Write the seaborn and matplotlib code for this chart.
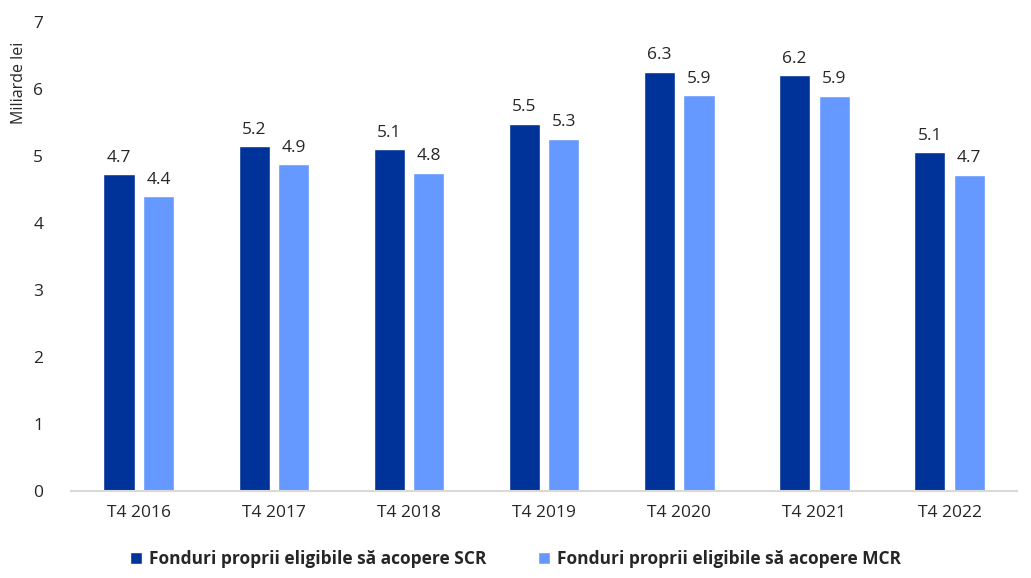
import seaborn as sns
import numpy as np
import pandas as pd
import matplotlib.pyplot as plt

categories = ["T4 2016", "T4 2017", "T4 2018", "T4 2019", "T4 2020", "T4 2021", "T4 2022"]
scr = [4.73, 5.15, 5.10, 5.48, 6.26, 6.21, 5.06]
mcr = [4.40, 4.88, 4.75, 5.26, 5.91, 5.90, 4.72]
series = ["Fonduri proprii eligibile să acopere SCR", "Fonduri proprii eligibile să acopere MCR"]

df = pd.DataFrame({
    "cat": categories * 2,
    "val": scr + mcr,
    "serie": [series[0]] * len(scr) + [series[1]] * len(mcr),
})

sns.set_style("white")
plt.rcParams['font.family'] = ['Open Sans', 'DejaVu Sans']

fig = plt.figure(figsize=(10.31, 5.78), dpi=100)
ax = fig.add_axes([0.069, 0.1505, 0.9175, 0.8115])
sns.barplot(data=df, x="cat", y="val", hue="serie", palette=["#003399", "#6699FF"],
            saturation=1, width=0.584, gap=0.21, ax=ax, legend=True)

for c in ax.containers:
    ax.bar_label(c, fmt="%.1f", padding=6, fontsize=12.5)

ax.set_ylim(0, 7)
ax.set_xlim(-0.5, 6.5)
ax.set_yticks(range(0, 8))
ax.set_xlabel("")
ax.set_ylabel("Miliarde lei", fontsize=11.5)
ax.yaxis.set_label_coords(-0.047, 0.87)
ax.tick_params(axis="both", labelsize=12.5, length=0)
ax.tick_params(axis="x", pad=10)
ax.tick_params(axis="y", pad=20)
for s in ["top", "right", "left"]:
    ax.spines[s].set_visible(False)
ax.spines["bottom"].set_color("#d9d9d9")
ax.spines["bottom"].set_linewidth(1.5)

h, l = ax.get_legend_handles_labels()
ax.get_legend().remove()
fig.legend(h, l, loc="lower center", bbox_to_anchor=(0.5, -0.01), ncol=2, frameon=False,
           prop={"weight": "bold", "size": 12.5}, handlelength=0.7, handleheight=0.7,
           handletextpad=0.4, columnspacing=3)

plt.savefig("out.png", dpi=100)
